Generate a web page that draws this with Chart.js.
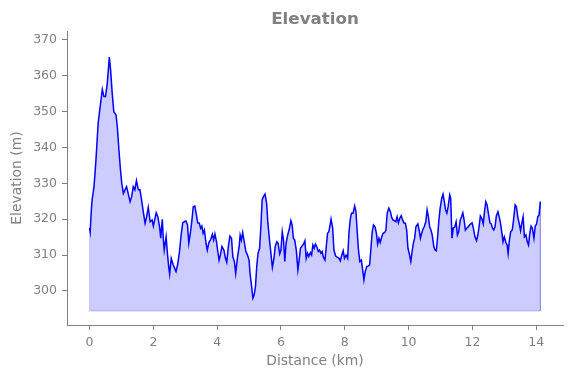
<!DOCTYPE html>
<html>
<head>
<meta charset="utf-8">
<script src="https://cdn.jsdelivr.net/npm/chart.js@4.4.1/dist/chart.umd.min.js"></script>
<style>
html,body{margin:0;padding:0;background:#fff;}
canvas{display:block;}
</style>
</head>
<body>
<canvas id="c" width="571" height="378"></canvas>
<script>
const distanceKm = [0.00,0.02,0.05,0.08,0.14,0.20,0.27,0.32,0.40,0.45,0.50,0.555,0.62,0.66,0.71,0.76,0.83,0.87,0.92,0.97,
1.01,1.06,1.11,1.16,1.21,1.27,1.32,1.37,1.42,1.47,1.53,1.58,1.63,1.69,1.74,1.79,1.84,1.90,1.96,
2.00,2.04,2.09,2.14,2.20,2.23,2.28,2.31,2.34,2.40,2.44,2.48,2.51,2.56,2.62,2.67,2.71,2.76,2.82,2.87,2.92,2.97,
3.02,3.07,3.11,3.16,3.21,3.25,3.30,3.34,3.39,3.44,3.48,3.52,3.56,3.60,3.65,3.69,3.74,3.80,3.85,3.89,3.93,3.98,
4.02,4.06,4.10,4.15,4.21,4.26,4.30,4.35,4.40,4.45,4.49,4.54,4.58,4.64,4.69,4.72,4.76,4.80,4.84,4.90,4.95,
5.00,5.03,5.08,5.12,5.16,5.20,5.24,5.28,5.33,5.37,5.41,5.45,5.50,5.55,5.59,5.64,5.69,5.73,5.78,5.82,5.87,5.91,5.96,
6.00,6.04,6.08,6.12,6.16,6.21,6.26,6.31,6.35,6.39,6.43,6.48,6.53,6.57,6.61,6.66,6.71,6.75,6.79,6.83,6.87,6.92,6.96,
7.00,7.04,7.08,7.12,7.17,7.21,7.25,7.29,7.33,7.38,7.42,7.46,7.50,7.54,7.57,7.62,7.66,7.71,7.76,7.82,7.86,7.90,7.95,7.99,
8.04,8.09,8.13,8.17,8.21,8.26,8.31,8.35,8.39,8.43,8.47,8.52,8.56,8.60,8.64,8.69,8.74,8.78,8.82,8.86,8.90,8.95,8.99,
9.03,9.07,9.11,9.16,9.20,9.25,9.29,9.33,9.38,9.43,9.47,9.51,9.55,9.60,9.64,9.68,9.73,9.77,9.81,9.86,9.90,9.94,9.98,
10.02,10.07,10.11,10.15,10.19,10.23,10.29,10.33,10.37,10.41,10.45,10.49,10.54,10.58,10.62,10.66,10.70,10.74,10.79,10.83,10.87,10.91,10.95,10.99,
11.04,11.08,11.12,11.16,11.20,11.24,11.29,11.32,11.36,11.40,11.45,11.49,11.53,11.57,11.62,11.66,11.70,11.74,11.78,11.82,11.86,11.91,11.95,11.99,
12.03,12.08,12.13,12.17,12.21,12.25,12.29,12.34,12.38,12.42,12.46,12.50,12.55,12.59,12.63,12.67,12.71,12.75,12.80,12.84,12.88,12.92,12.96,
13.00,13.05,13.09,13.12,13.16,13.20,13.25,13.29,13.34,13.38,13.42,13.47,13.51,13.55,13.59,13.63,13.68,13.72,13.76,13.80,13.84,13.88,13.93,13.97,
14.01,14.05,14.09,14.13];
const elevationM = [317.6,316.5,321.7,325.4,329.1,336.5,346.8,350.5,356.2,354.2,354.2,357.9,365.2,361.6,355.1,350.0,349.1,345.8,339.3,333.7,
330.0,327.2,328.2,329.1,327.2,324.9,326.3,329.1,328.2,330.8,328.2,328.2,325.4,321.7,318.9,320.7,323.3,319.3,319.8,
318.1,319.8,321.8,320.7,317.5,314.7,320.0,314.7,311.4,315.1,310.5,306.8,304.7,309.1,307.3,306.3,305.4,307.3,311.0,315.6,319.0,319.3,
319.5,318.4,313.3,316.1,319.8,323.5,323.7,321.7,319.0,318.9,317.5,318.1,316.1,317.0,313.3,311.4,313.5,314.4,315.8,314.2,315.9,313.7,
311.0,308.6,310.0,312.4,311.4,309.1,308.0,312.4,315.3,314.7,309.6,308.2,304.9,309.6,312.4,315.6,314.2,316.3,314.2,311.0,310.0,
308.6,304.9,301.2,298.0,298.9,301.2,306.8,310.5,311.9,317.9,325.4,326.3,327.0,324.5,318.9,314.2,310.0,306.6,309.1,312.4,313.7,313.3,310.3,
311.4,316.5,314.2,308.2,313.3,315.6,317.2,319.6,318.4,314.7,314.2,311.4,305.9,308.6,311.9,312.5,313.1,314.0,309.1,310.5,309.6,310.7,310.0,
312.8,311.9,313.1,312.4,311.0,311.4,310.5,311.0,309.4,308.6,312.4,316.1,316.5,318.4,320.0,317.5,311.4,309.8,309.4,309.1,308.4,309.8,311.2,309.1,
310.0,309.1,316.1,319.8,321.7,321.7,323.7,322.1,316.5,311.4,308.2,308.6,305.9,303.1,305.4,306.8,307.0,307.3,311.9,316.5,318.4,317.8,316.1,
313.1,314.7,313.5,315.1,316.1,316.3,317.0,321.7,323.1,322.1,320.5,319.8,319.6,319.3,320.7,319.0,320.4,321.0,319.8,318.9,318.9,317.0,311.9,
310.5,308.2,311.0,313.3,314.7,317.9,318.7,317.0,314.7,316.1,317.2,317.9,319.3,322.6,320.7,317.9,317.0,315.6,312.4,311.4,311.2,315.1,319.8,323.1,
325.9,327.0,324.9,322.6,321.7,323.5,326.8,325.9,314.7,317.5,317.9,319.3,315.6,316.5,319.8,320.7,321.8,319.8,317.0,317.5,317.8,318.4,318.7,319.0,
317.5,315.1,314.0,315.6,317.9,320.9,320.3,318.7,322.1,324.9,324.0,321.7,319.0,318.7,317.5,317.0,317.9,320.9,322.1,320.7,318.9,316.5,313.7,
315.1,313.5,312.8,310.5,314.2,316.5,317.0,319.8,324.0,323.5,320.7,318.7,316.8,318.9,320.7,315.1,315.6,313.7,312.8,316.1,318.1,317.5,314.7,318.1,
318.6,320.7,321.2,324.9];
const fillFloor = 294.4;
const xTicks = [0,2,4,6,8,10,12,14];
const yTicks = [300,310,320,330,340,350,360,370];
const xRange = [-0.707, 14.84];
const yRange = [290.5, 372.5];

const profile = distanceKm.map((d,i)=>({x:d,y:elevationM[i]}));
const lastX = distanceKm[distanceKm.length-1];
const outline = [
  {x:lastX, y:elevationM[elevationM.length-1]},
  {x:lastX, y:fillFloor},
  {x:distanceKm[0], y:fillFloor},
  {x:distanceKm[0], y:elevationM[0]}
];
const GRAY = '#808080';

const labelsPlugin = {
  id:'labels',
  afterDraw(chart){
    const ctx = chart.ctx, a = chart.chartArea;
    ctx.save();
    ctx.fillStyle = GRAY;
    ctx.textAlign = 'center';
    ctx.font = 'bold 16.7px "DejaVu Sans"';
    ctx.textBaseline = 'alphabetic';
    ctx.fillText('Elevation', (a.left+a.right)/2, 24);
    ctx.font = '13.9px "DejaVu Sans"';
    ctx.textBaseline = 'middle';
    ctx.fillText('Distance (km)', (a.left+a.right)/2, 361);
    ctx.translate(17, (a.top+a.bottom)/2);
    ctx.rotate(-Math.PI/2);
    ctx.fillText('Elevation (m)', 0, 0);
    ctx.restore();
  }
};

new Chart(document.getElementById('c'), {
  type:'line',
  data:{
    datasets:[
      {data:profile, borderColor:'rgba(0,0,0,0)', borderWidth:0, backgroundColor:'rgba(0,0,255,0.2)', fill:{value:fillFloor}, pointRadius:0, tension:0, order:3},
      {data:outline, borderColor:'rgba(0,0,255,0.2)', borderWidth:1, fill:false, pointRadius:0, tension:0, order:2},
      {data:profile, borderColor:'#0000ff', borderWidth:1.5, fill:false, pointRadius:0, tension:0, order:1}
    ]
  },
  options:{
    responsive:false,
    animation:false,
    devicePixelRatio:1,
    layout:{padding:{top:31,right:8,left:0,bottom:0}},
    plugins:{legend:{display:false}, title:{display:false}, tooltip:{enabled:false}},
    scales:{
      x:{
        type:'linear', min:xRange[0], max:xRange[1],
        afterFit(s){ s.height = 53; },
        afterBuildTicks(s){ s.ticks = xTicks.map(v=>({value:v})); },
        grid:{drawOnChartArea:false, drawTicks:true, tickLength:5, color:GRAY, tickColor:GRAY},
        border:{display:true, color:GRAY, width:1},
        ticks:{color:GRAY, font:{family:'DejaVu Sans', size:12.5}, padding:5, maxRotation:0, autoSkip:false}
      },
      y:{
        type:'linear', min:yRange[0], max:yRange[1],
        afterFit(s){ s.width = 67; },
        afterBuildTicks(s){ s.ticks = yTicks.map(v=>({value:v})); },
        grid:{drawOnChartArea:false, drawTicks:true, tickLength:5, color:GRAY, tickColor:GRAY},
        border:{display:true, color:GRAY, width:1},
        ticks:{color:GRAY, font:{family:'DejaVu Sans', size:12.5}, padding:5, autoSkip:false}
      }
    }
  },
  plugins:[labelsPlugin]
});
</script>
</body>
</html>
